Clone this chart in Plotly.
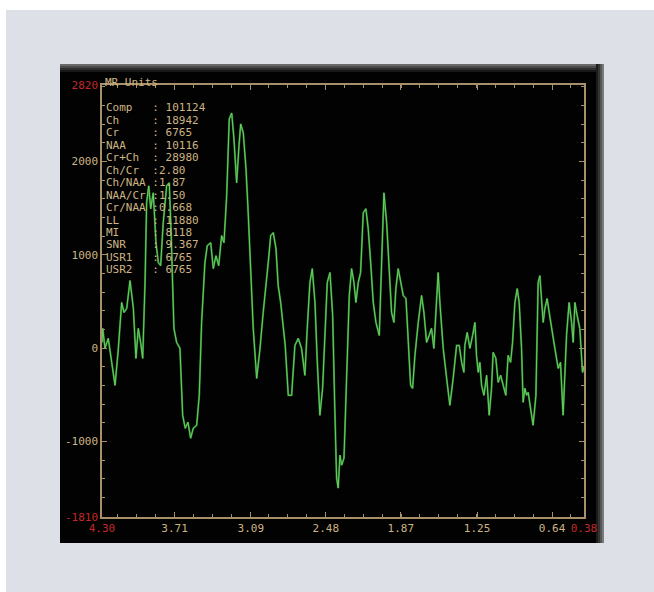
import plotly.graph_objects as go

# ---------------- data (chemical shift in ppm, signal in MR units) ----------------
ppm_seg1 = [4.30, 4.294, 4.276, 4.249, 4.221, 4.194, 4.167, 4.140, 4.121, 4.099,
            4.072, 4.045, 4.024, 4.005, 3.986, 3.969, 3.950, 3.937, 3.920, 3.904,
            3.883, 3.861, 3.842, 3.823, 3.802, 3.774, 3.753, 3.737, 3.715, 3.693,
            3.666, 3.644, 3.623, 3.601, 3.579, 3.558, 3.530, 3.509, 3.490, 3.463,
            3.444, 3.416, 3.395, 3.373, 3.351, 3.327, 3.308]
int_seg1 = [61, 211, -3, 104, -153, -399, -3, 489, 382, 425,
            724, 425, -110, 211, 61, -110, 703, 1558, 1740, 1494,
            1665, 1130, 916, 884, 1344, 1740, 1772, 1205, 211, 61,
            -3, -720, -859, -794, -966, -859, -827, -506, 275, 916,
            1098, 1130, 852, 991, 884, 1205, 1130]

ppm_seg2 = [3.286, 3.265, 3.245, 3.227, 3.205, 3.186, 3.172, 3.151, 3.129, 3.111,
            3.091, 3.070, 3.042, 3.015, 2.989, 2.967, 2.948, 2.928, 2.907, 2.885,
            2.867, 2.847, 2.826, 2.810, 2.785, 2.758, 2.731, 2.704, 2.677, 2.650,
            2.631, 2.609, 2.590, 2.568, 2.549, 2.528, 2.506, 2.487, 2.468, 2.446,
            2.424, 2.406, 2.392, 2.379, 2.365, 2.351, 2.332]
int_seg2 = [1633, 2456, 2520, 2242, 1772, 2168, 2403, 2307, 1922, 1451,
            916, 211, -324, -3, 382, 638, 916, 1205, 1237, 1066,
            670, 489, 211, 29, -506, -506, 29, 104, -3, -292,
            211, 703, 852, 489, -153, -720, -431, 211, 703, 810,
            350, -688, -1393, -1500, -1147, -1254, -1179]

ppm_seg3 = [2.324, 2.306, 2.289, 2.270, 2.251, 2.235, 2.216, 2.197, 2.175, 2.154,
            2.135, 2.115, 2.094, 2.072, 2.045, 2.026, 2.007, 1.985, 1.964, 1.945,
            1.926, 1.910, 1.891, 1.871, 1.850, 1.828, 1.810, 1.790, 1.774, 1.755,
            1.728, 1.701, 1.682, 1.660, 1.639, 1.620, 1.601, 1.579, 1.566, 1.552,
            1.525, 1.497, 1.471, 1.444, 1.416, 1.395, 1.375, 1.357]
int_seg3 = [-859, -153, 564, 852, 703, 489, 703, 810, 1451, 1494,
            1280, 916, 489, 275, 136, 916, 1665, 1344, 852, 382,
            275, 638, 852, 703, 564, 531, 136, -399, -431, -78,
            275, 564, 382, 61, 136, 211, -3, 564, 810, 489,
            -3, -324, -613, -324, 29, 29, -153, -260]

ppm_seg4 = [1.349, 1.330, 1.308, 1.286, 1.267, 1.254, 1.240, 1.227, 1.213, 1.194,
            1.172, 1.151, 1.132, 1.119, 1.097, 1.078, 1.058, 1.037, 1.016, 0.997,
            0.977, 0.961, 0.942, 0.923, 0.907, 0.888, 0.875, 0.861, 0.847, 0.834,
            0.815, 0.794, 0.771, 0.753, 0.739, 0.725, 0.712, 0.698, 0.680, 0.663,
            0.644, 0.617, 0.590, 0.571, 0.550, 0.536, 0.522, 0.501, 0.481, 0.468,
            0.454, 0.436, 0.414, 0.392, 0.38]
int_seg4 = [29, 168, -3, 136, 275, -78, -260, -153, -399, -506,
            -292, -720, -431, -46, -110, -367, -292, -399, -506, -78,
            -153, 61, 489, 638, 489, -3, -581, -431, -506, -474,
            -645, -827, -506, 703, 777, 564, 275, 425, 531, 382,
            211, -3, -217, -153, -720, -367, 136, 489, 275, 61,
            489, 350, 211, -260, -200]

ppm = ppm_seg1 + ppm_seg2 + ppm_seg3 + ppm_seg4
intensity = int_seg1 + int_seg2 + int_seg3 + int_seg4

x_range = [4.30, 0.38]
y_range = [-1810, 2820]
x_tick_vals = [4.30, 3.71, 3.09, 2.48, 1.87, 1.25, 0.64, 0.38]
x_tick_text = ["4.30", "3.71", "3.09", "2.48", "1.87", "1.25", "0.64", "0.38"]
y_tick_vals = [-1810, -1000, 0, 1000, 2000, 2820]
y_tick_text = ["-1810", "-1000", "0", "1000", "2000", "2820"]

unit_label = "MR Units"
metric_names = ["Comp", "Ch", "Cr", "NAA", "Cr+Ch", "Ch/Cr", "Ch/NAA",
                "NAA/Cr", "Cr/NAA", "LL", "MI", "SNR", "USR1", "USR2"]
metric_values = [" 101124", " 18942", " 6765", " 10116", " 28980", "2.80", "1.87",
                 "1.50", "0.668", " 11880", " 8118", " 9.367", " 6765", " 6765"]

# ---------------- styling / layout ----------------
W, H = 654, 592
L, R, T, B = 102, 584, 85, 517
FONT = "DejaVu Sans Mono, Liberation Mono, monospace"
TAN = "#cdb483"
AXIS = "#a8916a"
RED = "#c42828"
GREEN = "#66d060"


def fx(px):
    return (px - L) / (R - L)


def fy(py):
    return (B - py) / (B - T)


def red(s):
    return "<span style='color:%s'>%s</span>" % (RED, s)


def colour_ends(texts):
    return [red(t) if i in (0, len(texts) - 1) else t for i, t in enumerate(texts)]


fig = go.Figure()
fig.add_trace(go.Scatter(x=ppm, y=intensity, mode="lines",
                         line=dict(color="#2a7a2c", width=2.0), hoverinfo="skip",
                         showlegend=False))
fig.add_trace(go.Scatter(x=ppm, y=intensity, mode="lines",
                         line=dict(color=GREEN, width=1.0), showlegend=False))

shapes = []
# light panel
shapes.append(dict(type="rect", xref="paper", yref="paper", layer="below",
                   x0=fx(6), x1=fx(660), y0=fy(10), y1=fy(600),
                   fillcolor="#dde0e7", line=dict(width=0)))
# black display
shapes.append(dict(type="rect", xref="paper", yref="paper", layer="below",
                   x0=fx(60), x1=fx(604), y0=fy(64), y1=fy(543),
                   fillcolor="#020202", line=dict(width=0)))
# top bevel
top_greys = ["#6a6a6a", "#4a4a4a", "#2e2e2e", "#181818"]
for i, c in enumerate(top_greys):
    shapes.append(dict(type="rect", xref="paper", yref="paper", layer="below",
                       x0=fx(60), x1=fx(604), y0=fy(64 + 2 * i), y1=fy(66 + 2 * i),
                       fillcolor=c, line=dict(width=0)))
# right bevel
right_greys = ["#1c1c1c", "#333333", "#555555", "#7a7a7a"]
for i, c in enumerate(right_greys):
    shapes.append(dict(type="rect", xref="paper", yref="paper", layer="below",
                       x0=fx(596 + 2 * i), x1=fx(598 + 2 * i), y0=fy(64), y1=fy(543),
                       fillcolor=c, line=dict(width=0)))

annotations = [dict(xref="paper", yref="paper", x=fx(103), y=fy(82), xanchor="left",
                    yanchor="middle", text=unit_label, showarrow=False,
                    font=dict(family=FONT, size=11, color=TAN))]
for i, (n, v) in enumerate(zip(metric_names, metric_values)):
    line_txt = (n.ljust(7) + ":" + v).replace(" ", "\u00a0")
    annotations.append(dict(xref="paper", yref="paper", x=fx(104), y=fy(108 + 12.45 * i),
                            xanchor="left", yanchor="middle", text=line_txt,
                            showarrow=False, font=dict(family=FONT, size=11, color=TAN)))

x_step = (3.71 - 0.64) / 5 / 4
x_minor = [round(3.71 + k * x_step, 4) for k in range(-25, 5)
           if 0.38 < 3.71 + k * x_step < 4.30]
y_minor = list(range(-1800, 2821, 200))

axis_common = dict(showline=True, linecolor=AXIS, linewidth=1.5, mirror="ticks",
                   ticks="inside", ticklen=5, tickwidth=1, tickcolor=AXIS,
                   showgrid=False, zeroline=False, tickmode="array",
                   tickfont=dict(family=FONT, size=11, color=TAN))

fig.update_layout(
    width=W, height=H,
    margin=dict(l=L, r=W - R, t=T, b=H - B, pad=0),
    paper_bgcolor="white", plot_bgcolor="rgba(0,0,0,0)",
    shapes=shapes, annotations=annotations, showlegend=False,
    xaxis=dict(range=x_range, tickvals=x_tick_vals, ticktext=colour_ends(x_tick_text),
               minor=dict(tickmode="array", tickvals=x_minor, ticks="inside", ticklen=3,
                          tickcolor=AXIS),
               **axis_common),
    yaxis=dict(range=y_range, tickvals=y_tick_vals, ticktext=colour_ends(y_tick_text),
               minor=dict(tickmode="array", tickvals=y_minor, ticks="inside", ticklen=3,
                          tickcolor=AXIS),
               **axis_common),
)

fig.write_html("out.html", config={"displayModeBar": False},
               post_script="document.body.style.margin='0';document.body.style.padding='0';")
